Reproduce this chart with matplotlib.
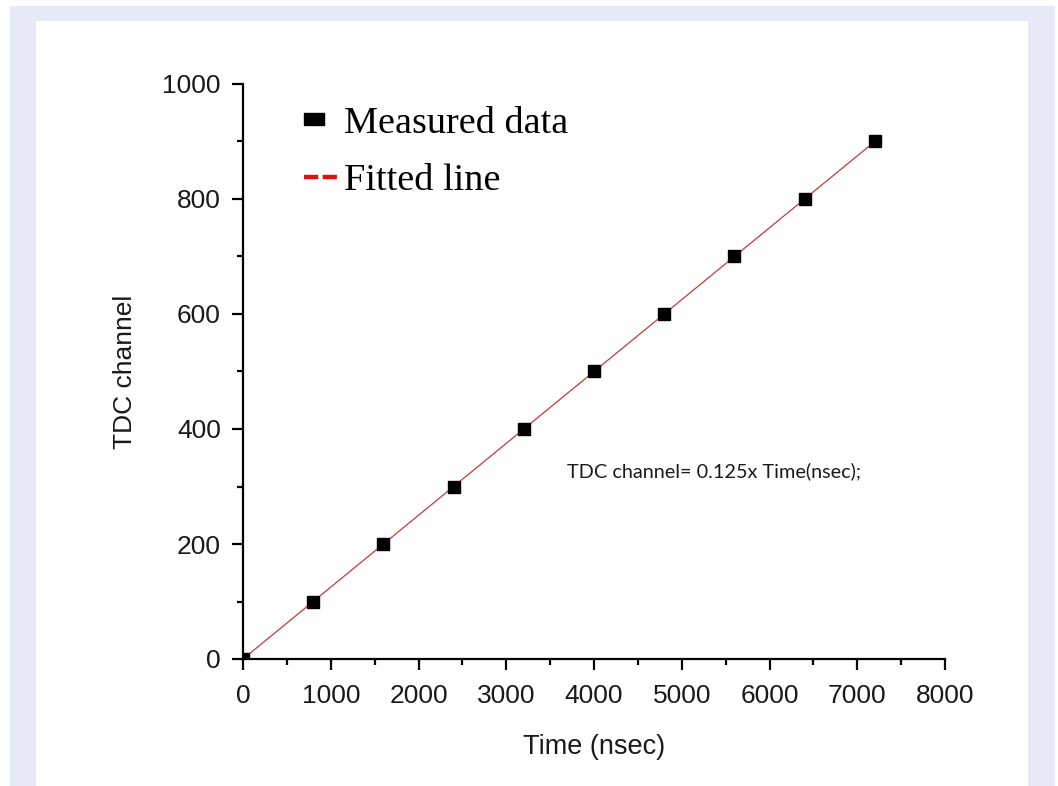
#!/usr/bin/env python3
"""TDC channel calibration: measured points and linear fit."""
import matplotlib
matplotlib.use("Agg")
import matplotlib.pyplot as plt
from matplotlib.legend_handler import HandlerLine2D
from matplotlib.lines import Line2D
from matplotlib.patches import Rectangle
from matplotlib.ticker import MultipleLocator

# measured points
time_ns = [0, 800, 1600, 2400, 3200, 4000, 4800, 5600, 6400, 7200]
tdc_channel = [0, 100, 200, 300, 400, 500, 600, 700, 800, 900]
fit_slope = 0.125

x_ticks = [0, 1000, 2000, 3000, 4000, 5000, 6000, 7000, 8000]
y_ticks = [0, 200, 400, 600, 800, 1000]


class LeftMarker(HandlerLine2D):
    # Origin-style legend: marker sits at the left of the handle
    # (the line is invisible, so shrink it; the marker goes at its middle)
    def get_xdata(self, legend, xdescent, ydescent, width, height, fontsize):
        return [-xdescent, -xdescent + 14.4], [-xdescent + 7.2]


# wide box used as the legend symbol
legend_box = [(-1.67, -1), (1.67, -1), (1.67, 1), (-1.67, 1), (-1.67, -1)]

W, H = 1058, 786
fig = plt.figure(figsize=(W / 100, H / 100), dpi=100)
fig.patch.set_facecolor("white")
# light blue frame with white panel, as in the source page
fig.patches.append(Rectangle((10 / W, 0), 1045 / W, 780 / H, transform=fig.transFigure,
                             facecolor="#e6eaf6", edgecolor="none", zorder=-2))
fig.patches.append(Rectangle((36 / W, 0), 992 / W, 765 / H, transform=fig.transFigure,
                             facecolor="white", edgecolor="none", zorder=-1))

ax = fig.add_axes([243 / W, 1 - 659 / H, 702 / W, 575 / H])
ax.patch.set_alpha(0)

fit_y = [fit_slope * t for t in time_ns]
ax.plot(time_ns, fit_y, color="#c83a3a", lw=0.9, zorder=2)
ax.plot(time_ns, tdc_channel, ls="none", marker="s", ms=8.5, color="black", zorder=3)

ax.set_xlim(0, 8000)
ax.set_ylim(0, 1000)
ax.set_xticks(x_ticks)
ax.set_yticks(y_ticks)
ax.xaxis.set_minor_locator(MultipleLocator(500))
ax.yaxis.set_minor_locator(MultipleLocator(100))

for s in ("top", "right"):
    ax.spines[s].set_visible(False)
for s in ("left", "bottom"):
    ax.spines[s].set_linewidth(1.6)

ax.tick_params(which="major", direction="out", length=8, width=1.6, labelsize=19,
               labelcolor="#1a1a1a")
ax.tick_params(axis="x", which="major", pad=10)
ax.tick_params(axis="y", which="major", pad=8)
ax.tick_params(which="minor", direction="out", length=4.5, width=1.6)
for lab in ax.get_xticklabels() + ax.get_yticklabels():
    lab.set_family("Liberation Sans")

ax.set_xlabel("Time (nsec)", fontsize=19.5, family="Liberation Sans", labelpad=19,
              color="#1a1a1a")
ax.set_ylabel("TDC channel", fontsize=19, family="Liberation Sans", labelpad=18,
              color="#1a1a1a")

ax.text(5370, 327, "TDC channel= 0.125x Time(nsec);", fontsize=14.3, family="Lato",
        ha="center", va="center", color="#1a1a1a")

handles = [
    Line2D([], [], ls="none", marker=legend_box, ms=14.4, color="black"),
    Line2D([], [], ls="--", lw=3.2, dashes=(3.2, 1.0), color="#e01010"),
]
ax.legend(handles, ["Measured data", "Fitted line"], loc="upper left",
          bbox_to_anchor=(0.0869, 0.962), frameon=False, handlelength=0.94,
          handletextpad=0.12, labelspacing=0.6, borderpad=0, borderaxespad=0,
          handler_map={handles[0]: LeftMarker(numpoints=1)},
          prop={"family": "Liberation Serif", "size": 27.5})

fig.savefig("out.png", dpi=100)
print("wrote out.png")
